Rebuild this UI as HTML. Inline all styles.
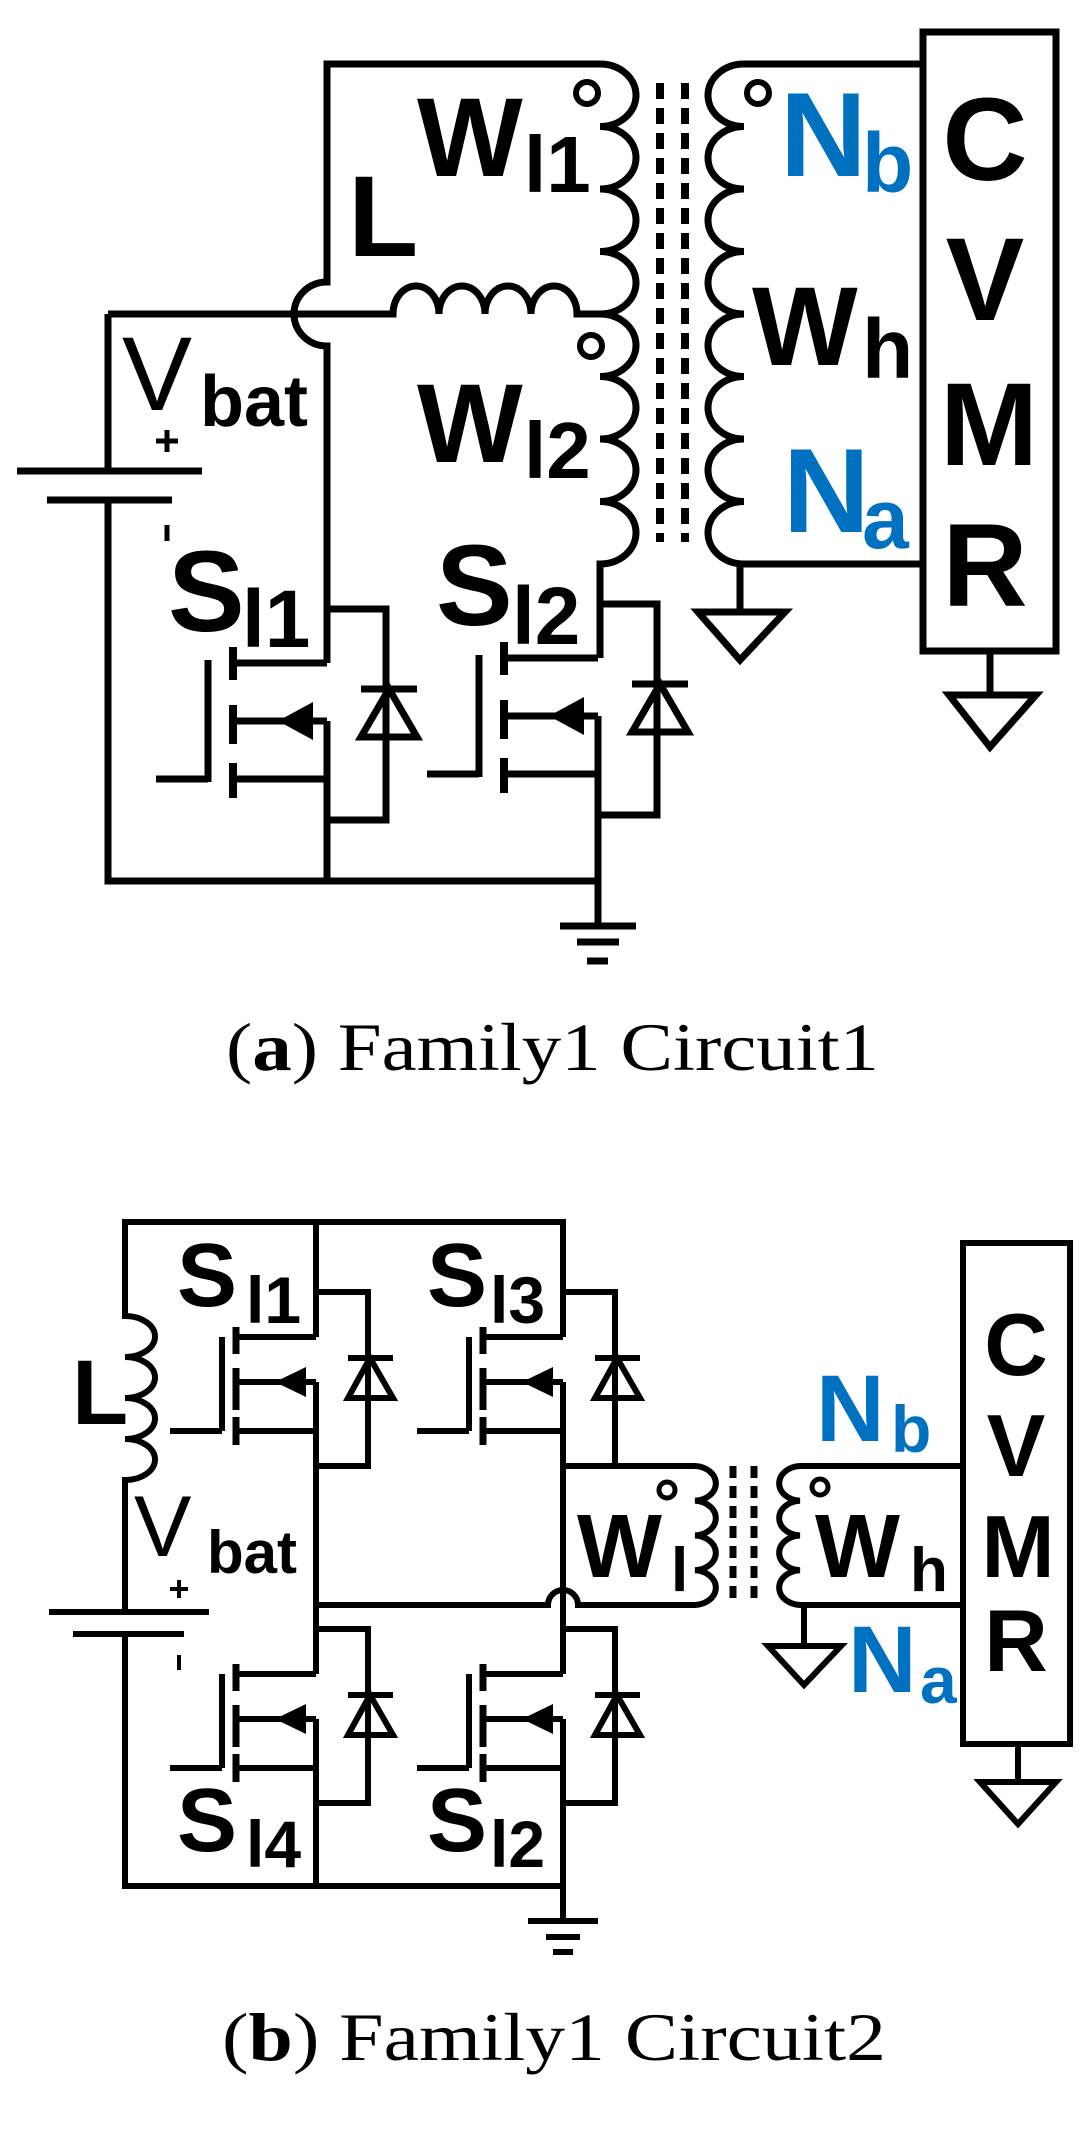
<!DOCTYPE html>
<html><head><meta charset="utf-8"><style>
html,body{margin:0;padding:0;background:#fff;}
svg{display:block;}
.t{font-family:"Liberation Sans",Arial,sans-serif;font-weight:bold;fill:#000;}
.b{fill:#0070c0;}
.c{font-family:"Liberation Serif",serif;fill:#000;}
</style></head><body>
<svg width="1084" height="2139" viewBox="0 0 1084 2139" xmlns="http://www.w3.org/2000/svg">
<defs>
<g id="ma" stroke="#000" stroke-width="7" fill="none">
  <path d="M233,663H327M327,609H386V820H327"/>
  <path d="M361,689H417"/>
  <polygon points="361,737 417,737 389,689"/>
  <path d="M233,647V680M233,705V744M233,763V798" stroke-width="8"/>
  <path d="M208,660V782M156,779H208"/>
  <path d="M233,721H327M233,779H327"/>
  <polygon points="278,721 313,702 313,740" fill="#000" stroke="none"/>
</g>
<g id="mb" stroke="#000" stroke-width="6" fill="none">
  <path d="M236,1337H316M316,1292H368V1466H316"/>
  <path d="M348,1358H393"/>
  <polygon points="348,1398 393,1398 370,1358"/>
  <path d="M236,1327V1354M236,1368V1410M236,1417V1445" stroke-width="7"/>
  <path d="M222,1337V1431M170,1431H222"/>
  <path d="M236,1382H316M236,1431H316"/>
  <polygon points="275,1382 306,1367 306,1397" fill="#000" stroke="none"/>
</g>
</defs>

<!-- ===== Circuit (a) ===== -->
<g stroke="#000" stroke-width="7" fill="none">
  <path d="M327,881V721M327,663V346A33,32 0 0 1 327,282V64H600"/>
  <path d="M108,314H393a23,28 0 0 1 46,0a23,28 0 0 1 46,0a23,28 0 0 1 46,0a23,28 0 0 1 46,0H600"/>
  <path d="M600,64a36,31.25 0 0 1 0,62.5a36,31.25 0 0 1 0,62.5a36,31.25 0 0 1 0,62.5a36,31.25 0 0 1 0,62.5a36,31.25 0 0 1 0,62.5a36,31.25 0 0 1 0,62.5a36,31.25 0 0 1 0,62.5a36,31.25 0 0 1 0,62.5V658M598,716V926"/>
  <path d="M923,64H744a36,31.25 0 0 0 0,62.5a36,31.25 0 0 0 0,62.5a36,31.25 0 0 0 0,62.5a36,31.25 0 0 0 0,62.5a36,31.25 0 0 0 0,62.5a36,31.25 0 0 0 0,62.5a36,31.25 0 0 0 0,62.5a36,31.25 0 0 0 0,62.5H923"/>
  <path d="M660,83V542M685,83V542" stroke-width="8" stroke-dasharray="16 9"/>
  <rect x="923" y="32" width="133" height="619"/>
  <path d="M740,564V612M698,612H785L740,660Z"/>
  <path d="M990,651V695M949,695H1036L990,747Z"/>
  <path d="M17,471H202M47,500H172M108,314V471M108,500V881H598"/>
  <path d="M560,926H636M577,942H619M587,961H608"/>
  <circle cx="587" cy="93" r="11" stroke-width="6"/>
  <circle cx="591" cy="346" r="11" stroke-width="6"/>
  <circle cx="758" cy="93" r="11" stroke-width="6"/>
  <path d="M167,430V452M156,441H178M167,525V541" stroke-width="5"/>
</g>
<use href="#ma"/>
<use href="#ma" transform="translate(271,-5)"/>

<text class="t" x="417" y="176" font-size="112">W</text><text class="t" x="524" y="192" font-size="80">l1</text>
<text class="t" x="348" y="256" font-size="115">L</text>
<text class="t" x="417" y="462" font-size="112">W</text><text class="t" x="524" y="478" font-size="80">l2</text>
<text class="t b" x="780" y="176" font-size="120">N</text><text class="t b" x="862" y="192" font-size="84">b</text>
<text class="t" x="752" y="365" font-size="112">W</text><text class="t" x="862" y="378" font-size="84">h</text>
<text class="t b" x="783" y="532" font-size="120">N</text><text class="t b" x="862" y="548" font-size="84">a</text>
<g class="t" font-size="118" text-anchor="middle">
<text x="985" y="180">C</text><text x="985" y="320">V</text><text x="989" y="465">M</text><text x="985" y="606">R</text>
</g>
<text x="122" y="410" font-size="105" font-family="Liberation Sans,sans-serif">V</text>
<text class="t" x="200" y="426" font-size="72" font-weight="normal">bat</text>
<text class="t" x="168" y="631" font-size="115">S</text><text class="t" x="242" y="647" font-size="82">l1</text>
<text class="t" x="436" y="625" font-size="115">S</text><text class="t" x="512" y="644" font-size="82">l2</text>

<text class="c" x="226" y="1070" font-size="68" textLength="653" lengthAdjust="spacingAndGlyphs">(<tspan font-weight="bold">a</tspan>) Family1 Circuit1</text>

<!-- ===== Circuit (b) ===== -->
<g stroke="#000" stroke-width="6" fill="none">
  <path d="M125,1612V1480a30,20.5 0 0 0 0,-41a30,20.5 0 0 0 0,-41a30,20.5 0 0 0 0,-41a30,20.5 0 0 0 0,-41V1222H563V1337"/>
  <path d="M316,1222V1337M316,1382V1674M316,1719V1886M563,1382V1674M563,1719V1921"/>
  <path d="M125,1634V1886H563"/>
  <path d="M49,1612H209M73,1634H184"/>
  <path d="M528,1921H598M546,1937H580M553,1952H573"/>
  <path d="M316,1605H548A15,15 0 0 1 578,1605H695a22,17.4 0 0 0 0,-34.75a22,17.4 0 0 0 0,-34.75a22,17.4 0 0 0 0,-34.75a22,17.4 0 0 0 0,-34.75H563"/>
  <path d="M963,1466H800a22,17.4 0 0 0 0,34.75a22,17.4 0 0 0 0,34.75a22,17.4 0 0 0 0,34.75a22,17.4 0 0 0 0,34.75H963"/>
  <path d="M733,1466V1600M754,1466V1600" stroke-width="7" stroke-dasharray="12 8"/>
  <path d="M804,1605V1646M768,1646H841L804,1685Z"/>
  <rect x="963" y="1243" width="107" height="501"/>
  <path d="M1018,1744V1782M980,1782H1056L1018,1824Z"/>
  <circle cx="667" cy="1490" r="8" stroke-width="5"/>
  <circle cx="820" cy="1487" r="8" stroke-width="5"/>
  <path d="M179,1580V1598M170,1589H188M179,1655V1670" stroke-width="4"/>
</g>
<use href="#mb"/>
<use href="#mb" transform="translate(247,0)"/>
<use href="#mb" transform="translate(0,337)"/>
<use href="#mb" transform="translate(247,337)"/>

<text class="t" x="177" y="1306" font-size="90">S</text><text class="t" x="246" y="1323" font-size="66">l1</text>
<text class="t" x="427" y="1306" font-size="90">S</text><text class="t" x="490" y="1323" font-size="66">l3</text>
<text class="t" x="177" y="1851" font-size="90">S</text><text class="t" x="246" y="1867" font-size="66">l4</text>
<text class="t" x="427" y="1851" font-size="90">S</text><text class="t" x="490" y="1867" font-size="66">l2</text>
<text class="t" x="72" y="1424" font-size="92">L</text>
<text x="134" y="1556" font-size="86" font-family="Liberation Sans,sans-serif">V</text>
<text class="t" x="207" y="1573" font-size="60" font-weight="normal">bat</text>
<text class="t" x="577" y="1577" font-size="90">W</text><text class="t" x="671" y="1591" font-size="62">l</text>
<text class="t" x="815" y="1577" font-size="90">W</text><text class="t" x="910" y="1591" font-size="62">h</text>
<text class="t b" x="816" y="1441" font-size="95">N</text><text class="t b" x="891" y="1452" font-size="66">b</text>
<text class="t b" x="848" y="1692" font-size="95">N</text><text class="t b" x="920" y="1703" font-size="66">a</text>
<g class="t" font-size="88" text-anchor="middle">
<text x="1016" y="1375">C</text><text x="1016" y="1476">V</text><text x="1018" y="1577">M</text><text x="1016" y="1671">R</text>
</g>

<text class="c" x="222" y="2060" font-size="68" textLength="664" lengthAdjust="spacingAndGlyphs">(<tspan font-weight="bold">b</tspan>) Family1 Circuit2</text>
</svg>
</body></html>
